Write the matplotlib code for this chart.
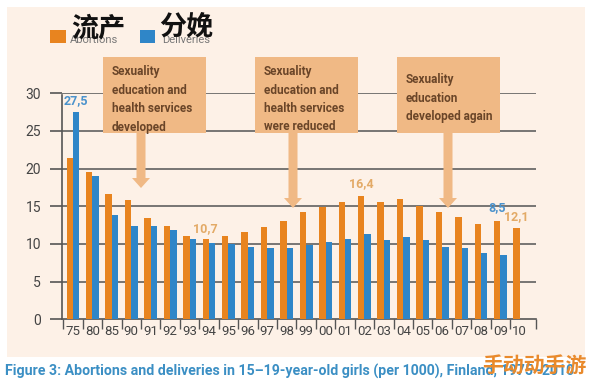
import numpy as np
import matplotlib
matplotlib.use('Agg')
import matplotlib.pyplot as plt
from matplotlib.patches import Rectangle, Polygon

# data (per 1000 girls aged 15-19, Finland)
years = ['75', '80', '85', '90', '91', '92', '93', '94', '95', '96', '97', '98',
         '99', '00', '01', '02', '03', '04', '05', '06', '07', '08', '09', '10']
abortions = [21.4, 19.5, 16.6, 15.8, 13.5, 12.4, 11.0, 10.7, 11.1, 11.6, 12.2, 13.1,
             14.2, 14.9, 15.6, 16.4, 15.6, 16.0, 15.0, 14.2, 13.6, 12.7, 13.0, 12.1]
deliveries = [27.5, 19.0, 13.9, 12.4, 12.4, 11.8, 10.6, 10.1, 10.0, 9.6, 9.4, 9.4,
              9.8, 10.2, 10.6, 11.3, 10.5, 10.9, 10.5, 9.6, 9.4, 8.8, 8.5, np.nan]
yticks = [0, 5, 10, 15, 20, 25, 30]

notes = ['Sexuality\neducation and\nhealth services\ndeveloped',
         'Sexuality\neducation and\nhealth services\nwere reduced',
         'Sexuality\neducation\ndeveloped again']

orange = '#e8841f'
blue = '#2f86c8'
tan = '#f0b985'
panel = '#fdf1e7'
W, H = 594, 385

plt.rcParams['font.family'] = ['Roboto', 'DejaVu Sans']
cjk = ['Noto Sans CJK SC', 'DejaVu Sans']


def fx(px):
    return px / W


def fy(py):
    return 1 - py / H


fig = plt.figure(figsize=(W / 100, H / 100), dpi=100)
fig.patch.set_facecolor('white')
fig.patches.append(Rectangle((fx(7), fy(357)), fx(585) - fx(7), fy(7) - fy(357),
                             transform=fig.transFigure, facecolor=panel,
                             edgecolor='none', zorder=-5))

ax = fig.add_axes([fx(62), fy(319.3), fx(536) - fx(62), fy(93.3) - fy(319.3)])
ax.set_facecolor('none')

x = np.arange(len(years))
w = 0.33
ax.bar(x - w / 2, abortions, w, color=orange, zorder=3)
ax.bar(x + w / 2, deliveries, w, color=blue, zorder=3)

ax.set_xlim(-0.566, 23.83)
ax.set_ylim(0, 30)
ax.set_yticks(yticks)
ax.set_yticklabels([str(t) for t in yticks], fontsize=10, color='#444444')
ax.tick_params(axis='y', length=9, width=1.2, color='#555555', pad=6)
for t in yticks[1:]:
    ax.axhline(t, color='#606060', lw=1.2, zorder=1)

ax.set_xticks(x)
ax.set_xticklabels(years, fontsize=9.5, color='#444444')
ax.tick_params(axis='x', length=0, pad=4)
ax.set_xticks(np.append(x - 0.5, 23.83), minor=True)
ax.tick_params(axis='x', which='minor', length=7, width=1, color='#555555')

for s in ['top', 'right']:
    ax.spines[s].set_visible(False)
for s in ['left', 'bottom']:
    ax.spines[s].set_color('#555555')
    ax.spines[s].set_linewidth(1.2)
ax.spines['left'].set_bounds(0, 29.8)

# value labels
lab = dict(fontsize=9, fontweight='bold', ha='center', va='center')
ax.text(x[0] + w / 2, 29.0, '27,5', color='#4a92cc', **lab)
ax.text(x[7] - w / 2, 12.0, '10,7', color='#e3aa66', **lab)
ax.text(x[15] - w / 2, 18.0, '16,4', color='#e3aa66', **lab)
ax.text(x[22] - 0.15, 14.8, '8,5', color='#4a92cc', **lab)
ax.text(x[23] - w / 2, 13.6, '12,1', color='#e3aa66', **lab)

# annotation boxes with arrows (pixel layout)
boxes = [(103, 141, 188), (255, 293, 208), (397, 448, 208)]
for (bx, ax_x, tip), note in zip(boxes, notes):
    fig.patches.append(Rectangle((fx(bx), fy(133)), fx(103), fy(57) - fy(133),
                                 transform=fig.transFigure, facecolor=tan,
                                 edgecolor='none', zorder=4))
    pts = [(ax_x - 4.5, 133), (ax_x + 4.5, 133), (ax_x + 4.5, tip - 10), (ax_x + 9, tip - 10),
           (ax_x, tip), (ax_x - 9, tip - 10), (ax_x - 4.5, tip - 10)]
    fig.patches.append(Polygon([(fx(p), fy(q)) for p, q in pts], closed=True,
                               transform=fig.transFigure, facecolor=tan,
                               edgecolor='none', zorder=4))
    ty = 65 if note.count('\n') == 3 else 73
    fig.text(fx(bx + 9), fy(ty), note, fontsize=8.5, fontweight='bold', color='#6a4528',
             va='top', ha='left', linespacing=1.55, zorder=5)

# legend
fig.patches.append(Rectangle((fx(50), fy(43)), fx(16), fy(30) - fy(43),
                             transform=fig.transFigure, facecolor=orange, edgecolor='none'))
fig.patches.append(Rectangle((fx(140), fy(43)), fx(15), fy(30) - fy(43),
                             transform=fig.transFigure, facecolor=blue, edgecolor='none'))
fig.text(fx(70), fy(40), 'Abortions', fontsize=8, color='#777777', va='center')
fig.text(fx(162), fy(40), 'Deliveries', fontsize=8, color='#777777', va='center')
fig.text(fx(71), fy(28), '流产', fontsize=19.5, fontweight='heavy', color='#111111', va='center',
         family=cjk)
fig.text(fx(159), fy(28), '分娩', fontsize=19.5, fontweight='heavy', color='#111111', va='center',
         family=cjk)

# caption and watermark
fig.text(fx(5), fy(371), 'Figure 3: Abortions and deliveries in 15\u201319-year-old girls (per 1000), Finland, 1975\u20132010',
         fontsize=10.2, fontweight='bold', color='#3b8fc4', va='center')
fig.text(fx(482), fy(365), '手动动手游', fontsize=15, fontweight='bold', color='#e98a2c', va='center',
         family=cjk)

fig.savefig('out.png', dpi=100)
